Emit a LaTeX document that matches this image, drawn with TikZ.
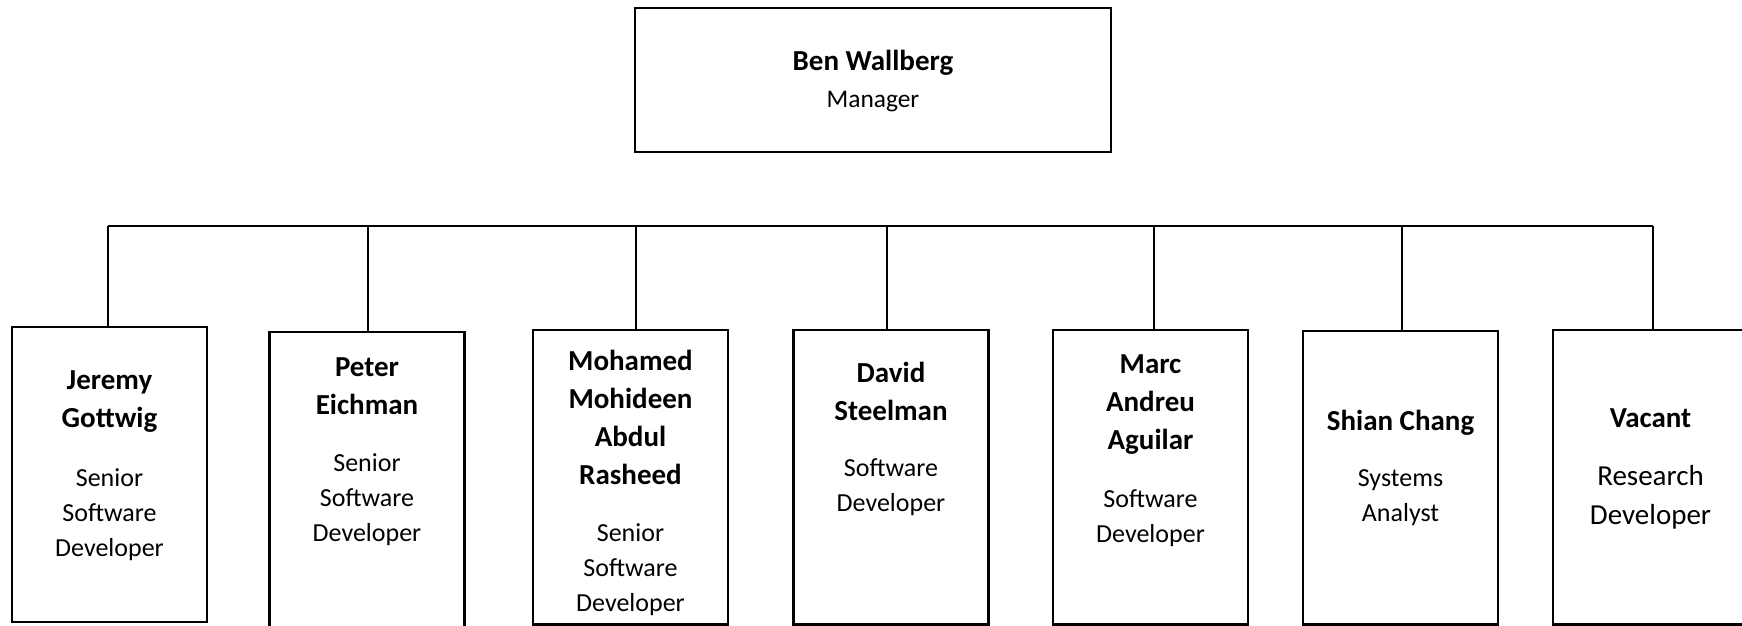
\documentclass[tikz,border=0pt]{standalone}
\usepackage{fontspec}
\setmainfont{Carlito}
\tikzset{
  post/.style={draw,line width=1.2pt,minimum width=97.5pt,inner sep=0pt},
  who/.style={font=\bfseries\fontsize{14.5}{19}\selectfont,align=center,inner sep=0pt},
  job/.style={font=\fontsize{13}{17.5}\selectfont,align=center,inner sep=0pt}
}
\begin{document}
\begin{tikzpicture}[x=0.5pt,y=-0.5pt]
\useasboundingbox (0,0) rectangle (1742,626);
\node[post,minimum width=238pt,minimum height=72pt](bw) at (873,80){};
\node[who](bw-n) at (873,63){Ben Wallberg};
\node[job,font=\fontsize{12.7}{17}\selectfont](bw-j) at (873,102){Manager};
\node[post,minimum height=147.5pt](jg) at (109.5,474.5){};
\node[who](jg-n) at (109.5,401.5){Jeremy\\Gottwig};
\node[job](jg-j) at (109.5,515){Senior\\Software\\Developer};
\node[post,minimum height=154pt](pe) at (367,486){};
\node[who](pe-n) at (367,386){Peter\\Eichman};
\node[job](pe-j) at (367,499.5){Senior\\Software\\Developer};
\node[post,minimum height=147.25pt](mm) at (630.5,477.25){};
\node[who](mm-n) at (630.5,417.5){Mohamed\\Mohideen\\Abdul\\Rasheed};
\node[job](mm-j) at (630.5,570){Senior\\Software\\Developer};
\node[post,minimum height=147.25pt](ds) at (891,477.25){};
\node[who](ds-n) at (891,391){David\\Steelman};
\node[job](ds-j) at (891,487.5){Software\\Developer};
\node[post,minimum height=147.25pt](ma) at (1150.5,477.25){};
\node[who](ma-n) at (1150.5,405){Marc\\Andreu\\Aguilar};
\node[job](ma-j) at (1150.5,518){Software\\Developer};
\node[post,minimum height=146.75pt](sc) at (1400.5,477.75){};
\node[who](sc-n) at (1400.5,423){Shian Chang};
\node[job](sc-j) at (1400.5,497.5){Systems\\Analyst};
\node[post,minimum height=147.25pt](va) at (1650.5,477.25){};
\node[who](va-n) at (1650.5,418){Vacant};
\node[job,font=\fontsize{14.5}{19.5}\selectfont](va-j) at (1650.5,497.5){Research\\Developer};
\coordinate (bar) at (0,226);
\draw[line width=0.6pt]([xshift=-0.75pt]jg.north|-bar)--([xshift=1.25pt]va.north|-bar);
\foreach \p/\s in {jg/-0.75,pe/0.5,mm/2.75,ds/-2,ma/1.75,sc/0.75,va/1.25}
  \draw[line width=0.6pt]([xshift=\s pt]\p.north)--([xshift=\s pt]\p.north|-bar);
\end{tikzpicture}
\end{document}
